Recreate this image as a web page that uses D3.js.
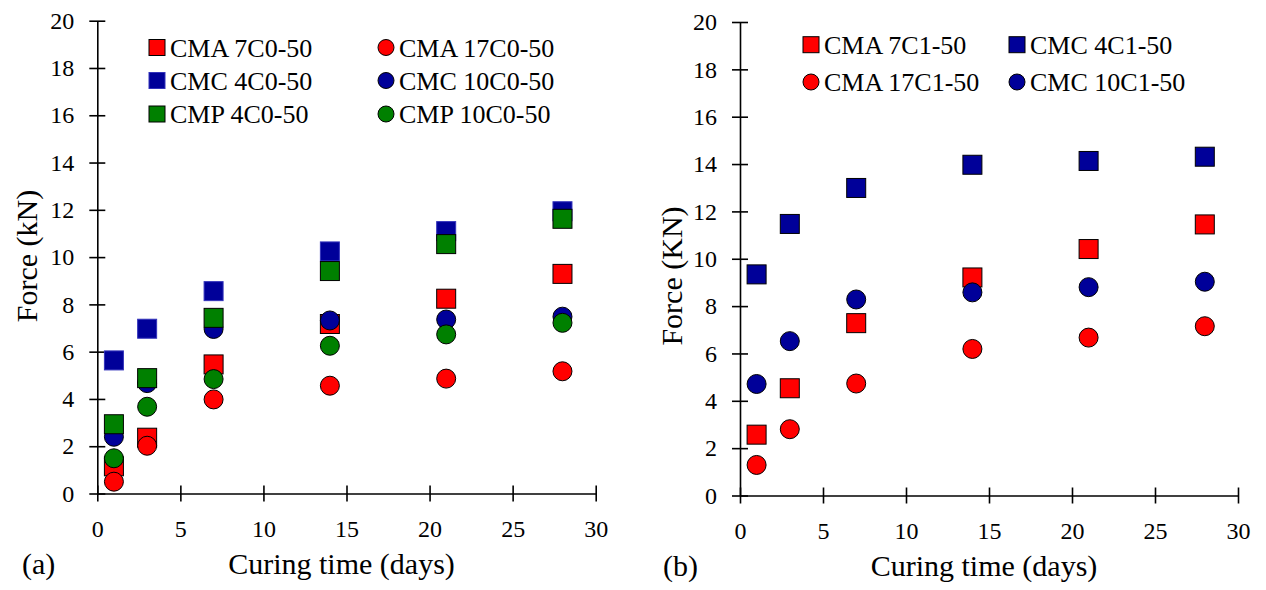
<!DOCTYPE html>
<html>
<head>
<meta charset="utf-8">
<script src="https://cdn.jsdelivr.net/npm/d3@7"></script>
<style>
  body { margin: 0; background: #fff; }
  text { font-family: "Liberation Serif", "Times New Roman", serif; fill: #000; }
</style>
</head>
<body>
<div id="chart"></div>
<script>
// curing times (days)
const days = [1, 3, 7, 14, 21, 28];
const xTicks = [0, 5, 10, 15, 20, 25, 30];
const yTicks = [0, 2, 4, 6, 8, 10, 12, 14, 16, 18, 20];

// panel (a) series
const cma7C0 = [1.15, 2.36, 5.46, 7.17, 8.24, 9.29];
const cma17C0 = [0.5, 2.02, 3.98, 4.56, 4.86, 5.17];
const cmc4C0 = [5.63, 6.97, 8.56, 10.24, 11.1, 11.94];
const cmc10C0 = [2.4, 4.67, 6.96, 7.32, 7.36, 7.48];
const cmp4C0 = [2.93, 4.88, 7.43, 9.41, 10.55, 11.62];
const cmp10C0 = [1.49, 3.67, 4.84, 6.25, 6.73, 7.22];

// panel (b) series
const cma7C1 = [2.57, 4.53, 7.28, 9.21, 10.41, 11.45];
const cmc4C1 = [9.34, 11.47, 12.99, 13.97, 14.13, 14.31];
const cma17C1 = [1.29, 2.8, 4.73, 6.19, 6.67, 7.15];
const cmc10C1 = [4.71, 6.52, 8.28, 8.58, 8.8, 9.03];

const RED = '#ff0000';
const BLUE = '#000099';
const GREEN = '#008000';
const FONT = '"Liberation Serif", "Times New Roman", serif';

let seriesA = [
  {name: 'CMA 7C0-50', vals: cma7C0, shape: 'square', color: RED, stroke: '#000'},
  {name: 'CMA 17C0-50', vals: cma17C0, shape: 'circle', color: RED, stroke: '#000'},
  {name: 'CMC 4C0-50', vals: cmc4C0, shape: 'square', color: BLUE, stroke: '#3333bb'},
  {name: 'CMC 10C0-50', vals: cmc10C0, shape: 'circle', color: BLUE, stroke: '#000'},
  {name: 'CMP 4C0-50', vals: cmp4C0, shape: 'square', color: GREEN, stroke: '#000'},
  {name: 'CMP 10C0-50', vals: cmp10C0, shape: 'circle', color: GREEN, stroke: '#000'}
];

let seriesB = [
  {name: 'CMA 7C1-50', vals: cma7C1, shape: 'square', color: RED, stroke: '#000'},
  {name: 'CMC 4C1-50', vals: cmc4C1, shape: 'square', color: BLUE, stroke: '#000'},
  {name: 'CMA 17C1-50', vals: cma17C1, shape: 'circle', color: RED, stroke: '#000'},
  {name: 'CMC 10C1-50', vals: cmc10C1, shape: 'circle', color: BLUE, stroke: '#000'}
];

let svg = d3.select('#chart')
  .append('svg')
  .attr('width', 1266)
  .attr('height', 590)
  .attr('font-family', FONT);

svg.append('rect').attr('width', 1266).attr('height', 590).attr('fill', '#fff');

function marker(g, shape, cx, cy, size, fill, stroke) {
  if (shape === 'square') {
    g.append('rect')
      .attr('x', cx - size / 2)
      .attr('y', cy - size / 2)
      .attr('width', size)
      .attr('height', size)
      .attr('fill', fill)
      .attr('stroke', stroke)
      .attr('stroke-width', 1);
  } else {
    g.append('circle')
      .attr('cx', cx)
      .attr('cy', cy)
      .attr('r', size / 2)
      .attr('fill', fill)
      .attr('stroke', stroke)
      .attr('stroke-width', 1);
  }
}

function drawPanel(p) {
  let x = d3.scaleLinear().domain([0, 30]).range([p.left, p.right]);
  let y = d3.scaleLinear().domain([0, 20]).range([p.bottom, p.top]);

  // axes, ticks cross the line on both sides
  let xAxis = svg.append('g')
    .attr('transform', 'translate(0,' + p.bottom + ')')
    .call(d3.axisBottom(x).tickValues(xTicks).tickSize(8).tickPadding(18).tickSizeOuter(0));
  xAxis.selectAll('.tick line').attr('y1', -8).attr('y2', 8);

  let yAxis = svg.append('g')
    .attr('transform', 'translate(' + p.left + ',0)')
    .call(d3.axisLeft(y).tickValues(yTicks).tickSize(8).tickPadding(15).tickSizeOuter(0));
  yAxis.selectAll('.tick line').attr('x1', -8).attr('x2', 8);

  [xAxis, yAxis].forEach(a => {
    a.attr('font-family', FONT).attr('font-size', 24);
    a.select('.domain').attr('stroke', '#000').attr('stroke-width', 1.6);
    a.selectAll('.tick line').attr('stroke', '#000').attr('stroke-width', 1.6);
    a.selectAll('.tick text')
      .style('font-family', FONT)
      .style('font-size', '24px')
      .attr('fill', '#000');
  });
  xAxis.selectAll('.tick text').attr('dy', '0.71em');

  // markers
  let marks = svg.append('g');
  p.series.forEach(s => {
    s.vals.forEach((v, i) => {
      marker(marks, s.shape, x(days[i]), y(v), 19, s.color, s.stroke);
    });
  });

  // legend
  p.series.forEach((s, i) => {
    let col = i % 2;
    let row = Math.floor(i / 2);
    let lx = p.legX[col];
    let ly = p.legY[row];
    marker(svg, s.shape, lx + 8, ly, 16, s.color, s.stroke);
    svg.append('text')
      .attr('x', lx + 21)
      .attr('y', ly)
      .attr('dy', '0.35em')
      .style('font-size', '26px')
      .text(s.name);
  });

  // titles
  svg.append('text')
    .attr('x', (p.left + p.right) / 2 - 5)
    .attr('y', p.bottom + 80)
    .attr('text-anchor', 'middle')
    .style('font-size', '30px')
    .text('Curing time (days)');

  svg.append('text')
    .attr('transform', 'translate(' + p.ytX + ',' + p.ytY + ') rotate(-90)')
    .attr('text-anchor', 'middle')
    .style('font-size', '30px')
    .text(p.yTitle);

  svg.append('text')
    .attr('x', p.tagX)
    .attr('y', p.bottom + 80)
    .style('font-size', '30px')
    .text(p.tag);
}

drawPanel({
  left: 97.3, right: 595.7, bottom: 493.5, top: 20.7,
  series: seriesA,
  legX: [149, 378], legY: [47.5, 80.5, 114],
  yTitle: 'Force (kN)', ytX: 37, ytY: 256,
  tag: '(a)', tagX: 22
});

drawPanel({
  left: 740, right: 1238, bottom: 495.5, top: 22,
  series: seriesB,
  legX: [803, 1009], legY: [44.7, 82],
  yTitle: 'Force (KN)', ytX: 682, ytY: 276,
  tag: '(b)', tagX: 663
});
</script>
</body>
</html>
